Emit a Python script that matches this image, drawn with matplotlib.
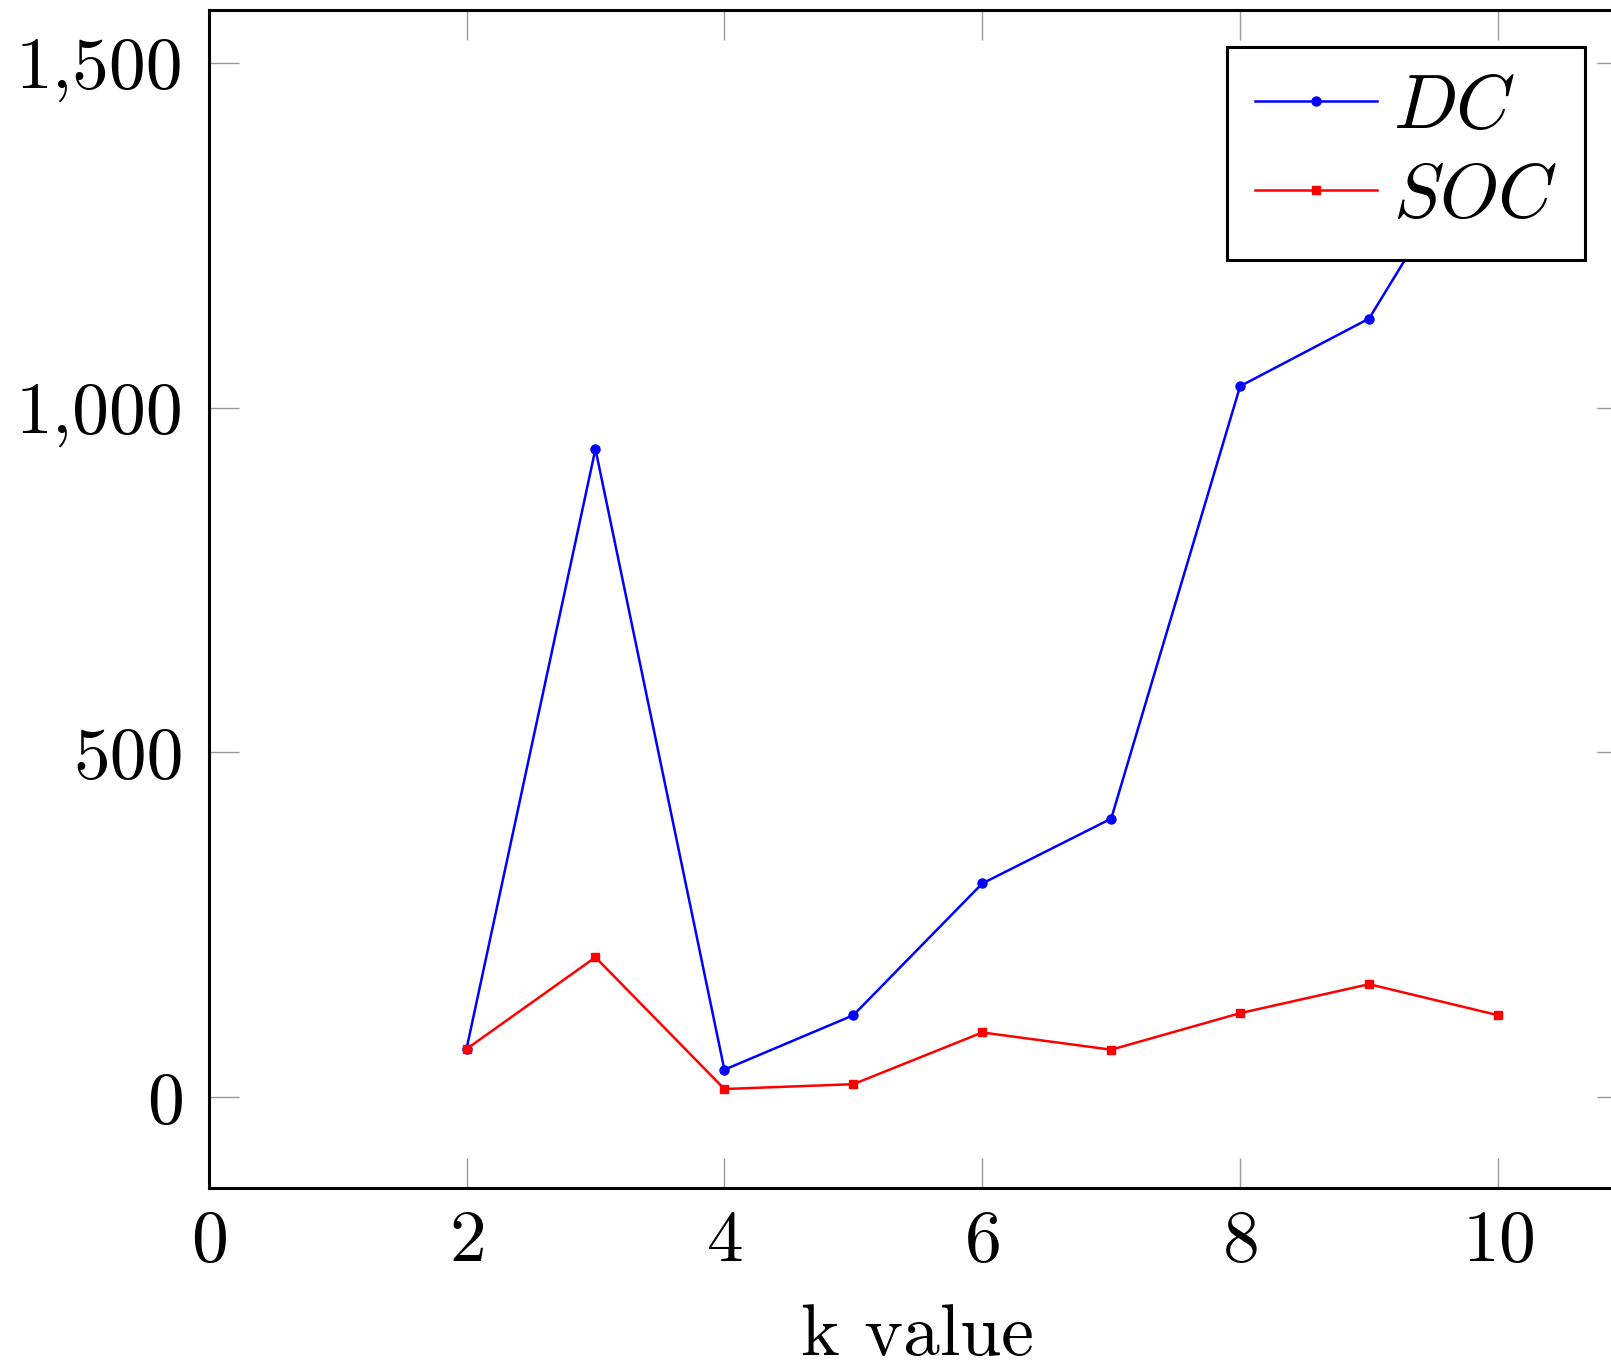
"""
Recria o gráfico DC vs SOC em função de k (estilo pgfplots).
"""

import matplotlib
matplotlib.use("Agg")
import matplotlib.pyplot as plt
from matplotlib.ticker import FuncFormatter

# ---------------------------------------------------------------------------
# Dados
# ---------------------------------------------------------------------------
k_values = [2, 3, 4, 5, 6, 7, 8, 9, 10]
dc_values = [70, 940, 40, 119, 310, 404, 1031, 1129, 1435]
soc_values = [70, 203, 12, 19, 94, 69, 122, 164, 119]

x_ticks = [0, 2, 4, 6, 8, 10]
y_ticks = [0, 500, 1000, 1500]

# ---------------------------------------------------------------------------
# Estilo (Computer Modern)
# ---------------------------------------------------------------------------
plt.rcParams["font.family"] = "serif"
plt.rcParams["font.serif"] = ["cmr10", "DejaVu Serif"]
plt.rcParams["mathtext.fontset"] = "cm"
plt.rcParams["axes.unicode_minus"] = False
plt.rcParams["axes.formatter.use_mathtext"] = True

FS = 53
W, H, DPI = 16.11, 13.70, 100

fig = plt.figure(figsize=(W, H), dpi=DPI)
ax = fig.add_axes([0.1295, 0.1331, 1.0099 - 0.1295, 0.9925 - 0.1331])

ax.plot(k_values, dc_values, color="blue", linewidth=1.8,
        marker="o", markersize=6.5, label=r"$DC$")
ax.plot(k_values, soc_values, color="red", linewidth=1.8,
        marker="s", markersize=6, label=r"$SOC$")

ax.set_xlim(0, 11)
ax.set_ylim(-131, 1576)
ax.set_xticks(x_ticks)
ax.set_yticks(y_ticks)
ax.yaxis.set_major_formatter(FuncFormatter(lambda v, _: f"{int(v):,}"))

ax.tick_params(direction="in", length=21.6, width=1.0, color="#999999",
               top=True, right=True, labelsize=FS)
ax.tick_params(axis="x", pad=16)
ax.tick_params(axis="y", pad=18)
for lbl in ax.get_yticklabels():
    lbl.set_verticalalignment("center_baseline")

for sp in ax.spines.values():
    sp.set_linewidth(2.2)

ax.set_xlabel("k value", fontsize=FS, labelpad=21)

leg = ax.legend(loc="upper right", bbox_to_anchor=(0.9839, 0.9659),
                bbox_transform=fig.transFigure, borderaxespad=0,
                fontsize=54.5, fancybox=False, framealpha=1,
                handlelength=1.61, labelspacing=0.28, handletextpad=0.22,
                borderpad=0.37)
leg.get_frame().set_edgecolor("black")
leg.get_frame().set_linewidth(2.2)

fig.savefig("out.png", dpi=DPI)
plt.close(fig)
